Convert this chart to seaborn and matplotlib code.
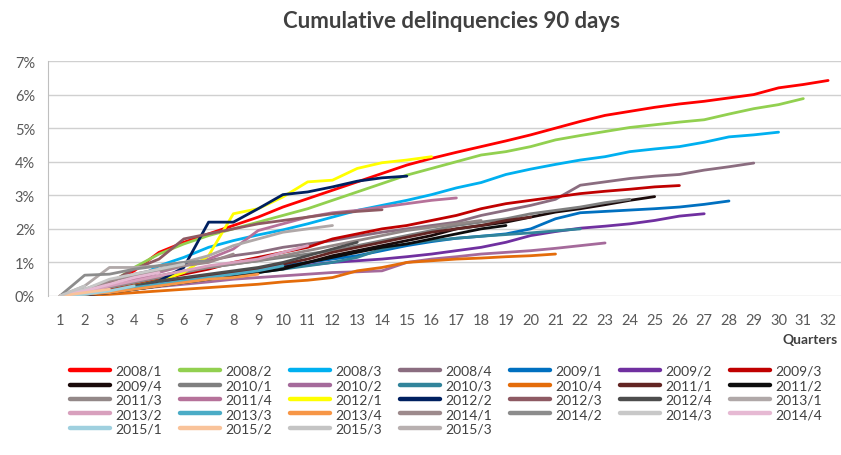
import numpy as np
import pandas as pd
import matplotlib
matplotlib.use("Agg")
import matplotlib.pyplot as plt
from matplotlib.lines import Line2D
from matplotlib.ticker import PercentFormatter
import seaborn as sns

# ---- cohorts (vintage year/quarter) and their line colours ----
cohorts = ["2008/1", "2008/2", "2008/3", "2008/4", "2009/1", "2009/2", "2009/3",
           "2009/4", "2010/1", "2010/2", "2010/3", "2010/4", "2011/1", "2011/2",
           "2011/3", "2011/4", "2012/1", "2012/2", "2012/3", "2012/4", "2013/1",
           "2013/2", "2013/3", "2013/4", "2014/1", "2014/2", "2014/3", "2014/4",
           "2015/1", "2015/2", "2015/3", "2015/3"]
colors = ["#FF0000", "#92D050", "#00B0F0", "#8B6D80", "#0070C0", "#7030A0", "#C00000",
          "#1A0A0A", "#7F7F7F", "#A56A9B", "#31849B", "#E46C0A", "#632523", "#0D0D0D",
          "#938888", "#B6729A", "#FFFF00", "#002060", "#8E5A63", "#4D4D4D", "#B0A8A8",
          "#D8A0BD", "#4BACC6", "#F79646", "#9D8A8C", "#8C8C8C", "#C8C8C8", "#E6B9D3",
          "#9FD0DF", "#F9C39A", "#C4C4C4", "#B8B0B0"]

# ---- cumulative 90-day delinquency rate (%), quarter 1, 2, 3 ... ----
c2008_1 = [0, 0.15, 0.4, 0.75, 1.3, 1.6, 1.85, 2.1, 2.35, 2.65, 2.9, 3.15, 3.4, 3.65, 3.9, 4.1,
           4.28, 4.45, 4.62, 4.8, 5.0, 5.2, 5.38, 5.5, 5.62, 5.72, 5.8, 5.9, 6.0, 6.2, 6.3, 6.42]
c2008_2 = [0, 0.1, 0.35, 0.85, 1.25, 1.55, 1.8, 2.0, 2.2, 2.4, 2.6, 2.85, 3.1, 3.35, 3.6, 3.8,
           4.0, 4.2, 4.3, 4.45, 4.65, 4.78, 4.9, 5.02, 5.1, 5.18, 5.25, 5.42, 5.58, 5.7, 5.88]
c2008_3 = [0, 0.05, 0.2, 0.5, 0.9, 1.15, 1.45, 1.65, 1.82, 1.97, 2.15, 2.35, 2.55, 2.7, 2.85,
           3.02, 3.22, 3.38, 3.62, 3.78, 3.92, 4.05, 4.15, 4.3, 4.38, 4.45, 4.58, 4.74, 4.8, 4.88]
c2008_4 = [0, 0.2, 0.45, 0.65, 0.8, 0.95, 1.05, 1.2, 1.3, 1.45, 1.55, 1.65, 1.78, 1.9, 2.0,
           2.1, 2.2, 2.4, 2.55, 2.7, 2.88, 3.3, 3.4, 3.5, 3.57, 3.62, 3.75, 3.85, 3.96]
c2009_1 = [0, 0.05, 0.15, 0.3, 0.4, 0.5, 0.6, 0.7, 0.8, 0.9, 1.0, 1.1, 1.2, 1.35, 1.5, 1.62,
           1.72, 1.78, 1.85, 2.0, 2.3, 2.48, 2.52, 2.56, 2.6, 2.65, 2.73, 2.83]
c2009_2 = [0, 0.05, 0.15, 0.25, 0.35, 0.45, 0.55, 0.65, 0.75, 0.85, 0.92, 1.0, 1.05, 1.1,
           1.17, 1.25, 1.35, 1.45, 1.6, 1.8, 1.92, 2.02, 2.08, 2.15, 2.25, 2.38, 2.45]
c2009_3 = [0, 0.05, 0.2, 0.35, 0.5, 0.65, 0.8, 1.0, 1.15, 1.3, 1.45, 1.7, 1.85, 2.0, 2.1,
           2.25, 2.4, 2.6, 2.75, 2.85, 2.95, 3.05, 3.12, 3.18, 3.25, 3.29]
c2009_4 = [0, 0.05, 0.1, 0.2, 0.3, 0.4, 0.5, 0.6, 0.7, 0.85, 1.0, 1.2, 1.35, 1.5, 1.65, 1.8,
           2.0, 2.1, 2.2, 2.35, 2.5, 2.6, 2.72, 2.85, 2.96]
c2010_1 = [0, 0.1, 0.3, 0.45, 0.6, 0.75, 0.85, 0.95, 1.05, 1.15, 1.25, 1.35, 1.5, 1.65, 1.8,
           1.95, 2.1, 2.2, 2.3, 2.45, 2.55, 2.65, 2.78, 2.88]
c2010_2 = [0, 0.05, 0.12, 0.2, 0.28, 0.35, 0.42, 0.5, 0.55, 0.6, 0.65, 0.7, 0.72, 0.75, 1.0,
           1.1, 1.17, 1.25, 1.3, 1.35, 1.42, 1.5, 1.58]
c2010_3 = [0, 0.05, 0.1, 0.2, 0.3, 0.4, 0.5, 0.6, 0.7, 0.8, 0.9, 1.0, 1.15, 1.4, 1.55, 1.65,
           1.72, 1.78, 1.83, 1.88, 1.94, 2.0]
c2010_4 = [0, 0.02, 0.05, 0.1, 0.15, 0.2, 0.25, 0.3, 0.35, 0.42, 0.47, 0.55, 0.75, 0.85, 1.0,
           1.05, 1.1, 1.13, 1.17, 1.2, 1.25]
c2011_1 = [0, 0.05, 0.15, 0.25, 0.35, 0.5, 0.6, 0.7, 0.8, 0.95, 1.1, 1.3, 1.45, 1.6, 1.75,
           1.9, 2.0, 2.1, 2.25, 2.35]
c2011_2 = [0, 0.05, 0.1, 0.2, 0.3, 0.4, 0.5, 0.6, 0.7, 0.8, 1.0, 1.15, 1.3, 1.45, 1.55, 1.7,
           1.85, 2.0, 2.1]
c2011_3 = [0, 0.1, 0.25, 0.4, 0.55, 0.7, 0.85, 0.95, 1.05, 1.2, 1.35, 1.5, 1.65, 1.8, 1.95,
           2.05, 2.15, 2.25]
c2011_4 = [0, 0.1, 0.3, 0.5, 0.7, 0.9, 1.1, 1.4, 1.95, 2.15, 2.35, 2.48, 2.55, 2.65, 2.75,
           2.85, 2.92]
c2012_1 = [0, 0.05, 0.15, 0.3, 0.45, 0.7, 1.2, 2.45, 2.6, 2.95, 3.4, 3.45, 3.8, 3.97, 4.05, 4.15]
c2012_2 = [0, 0.03, 0.1, 0.25, 0.45, 0.85, 2.2, 2.2, 2.6, 3.02, 3.1, 3.25, 3.42, 3.52, 3.57]
c2012_3 = [0, 0.1, 0.4, 0.8, 1.1, 1.7, 1.85, 2.0, 2.15, 2.25, 2.35, 2.45, 2.52, 2.57]
c2012_4 = [0, 0.05, 0.15, 0.3, 0.45, 0.55, 0.65, 0.75, 0.85, 1.0, 1.2, 1.4, 1.6]
c2013_1 = [0, 0.3, 0.85, 0.85, 0.9, 1.0, 1.2, 1.5, 1.7, 1.9, 2.0, 2.1]
c2013_2 = [0, 0.1, 0.3, 0.45, 0.6, 0.75, 0.9, 1.0, 1.1, 1.3, 1.5]
c2013_3 = [0, 0.05, 0.15, 0.25, 0.35, 0.45, 0.55, 0.65, 0.75, 0.9]
c2013_4 = [0, 0.05, 0.1, 0.2, 0.3, 0.4, 0.5, 0.55, 0.65]
c2014_1 = [0, 0.15, 0.45, 0.6, 0.75, 0.9, 1.0, 1.25]
c2014_2 = [0, 0.62, 0.65, 0.8, 0.9, 1.0, 1.05]
c2014_3 = [0, 0.2, 0.5, 0.65, 0.8, 0.95]
c2014_4 = [0, 0.15, 0.35, 0.55, 0.7]
c2015_1 = [0, 0.05, 0.15, 0.3]
c2015_2 = [0, 0.1, 0.2]
c2015_3 = [0, 0.3]
c2015_3b = [0]

series = [c2008_1, c2008_2, c2008_3, c2008_4, c2009_1, c2009_2, c2009_3, c2009_4,
          c2010_1, c2010_2, c2010_3, c2010_4, c2011_1, c2011_2, c2011_3, c2011_4,
          c2012_1, c2012_2, c2012_3, c2012_4, c2013_1, c2013_2, c2013_3, c2013_4,
          c2014_1, c2014_2, c2014_3, c2014_4, c2015_1, c2015_2, c2015_3, c2015_3b]

quarters = list(range(1, 33))

# long format, with a unique id per series (the last two labels are the same)
ids = [f"s{i:02d}" for i in range(len(cohorts))]
rows = []
for sid, vals in zip(ids, series):
    for q, v in zip(quarters, vals):
        rows.append((sid, q, v))
df = pd.DataFrame(rows, columns=["sid", "quarter", "rate"])
pal = dict(zip(ids, colors))

sns.set_style("white")
plt.rcParams["font.family"] = ["Lato", "DejaVu Sans"]

txt = "#595959"
fig = plt.figure(figsize=(8.41, 4.56), dpi=100)
ax = fig.add_axes([47.5 / 841, 1 - 297 / 456, 793 / 841, 235 / 456])

sns.lineplot(data=df, x="quarter", y="rate", hue="sid", hue_order=ids, palette=pal,
             linewidth=2.0, estimator=None, sort=False, legend=False, ax=ax)

ax.set_xlim(0.5, 32.5)
ax.set_ylim(0, 7)
ax.set_xticks(quarters)
ax.set_yticks(range(0, 8))
ax.yaxis.set_major_formatter(PercentFormatter(100, decimals=0))
ax.grid(axis="y", color="#D0D0D0", linewidth=1.0)
ax.set_axisbelow(True)
ax.set_xlabel("")
ax.set_ylabel("")
for s in ["top", "right", "bottom"]:
    ax.spines[s].set_visible(False)
ax.spines["left"].set_color("#BFBFBF")
ax.tick_params(axis="both", length=0, labelsize=10.5, colors=txt)
ax.tick_params(axis="x", pad=12)
ax.tick_params(axis="y", pad=9)

fig.text(452 / 841, 1 - 21 / 456, "Cumulative delinquencies 90 days", ha="center",
         va="center", fontsize=16, fontweight="bold", color="#404040")
fig.text(838 / 841, 1 - 340 / 456, "Quarters", ha="right", va="center",
         fontsize=10, fontweight="bold", color="#404040")

# legend filled row by row (7 per row) like the original
ncol = 7
order = [r * ncol + c for c in range(ncol) for r in range(5) if r * ncol + c < len(cohorts)]
handles = [Line2D([], [], color=colors[i], linewidth=3.2) for i in order]
labels = [cohorts[i] for i in order]
fig.legend(handles, labels, ncol=ncol, loc="upper left",
           bbox_to_anchor=(70 / 841, 1 - 366 / 456), frameon=False,
           fontsize=10, labelcolor="#404040", handlelength=2.9, handletextpad=0.35,
           columnspacing=1.3, labelspacing=0.17, borderpad=0, borderaxespad=0)

fig.savefig("out.png", dpi=100)
